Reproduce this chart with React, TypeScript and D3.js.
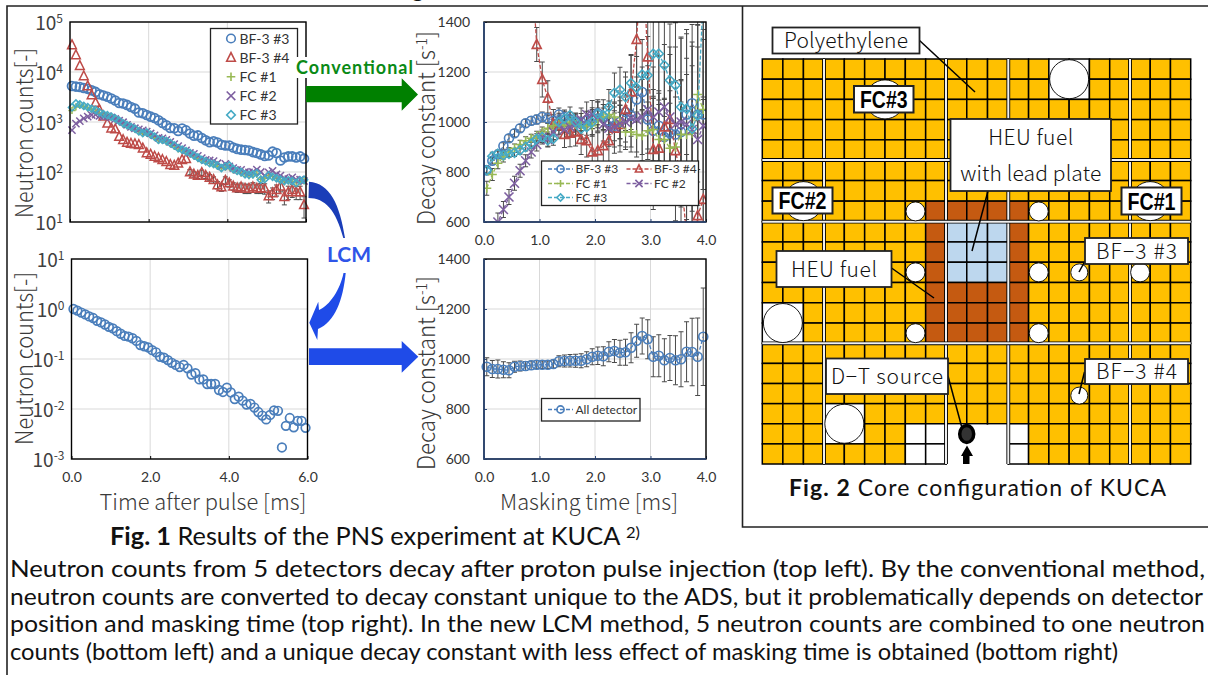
import React, { useEffect, useRef } from 'react';
import * as d3 from 'd3';

// ---- data ----
const timeBins = [0.05,0.15,0.25,0.35,0.45,0.55,0.65,0.75,0.85,0.95,1.05,1.15,1.25,1.35,1.45,1.55,1.65,1.75,1.85,1.95,2.05,2.15,2.25,2.35,2.45,2.55,2.65,2.75,2.85,2.95,3.05,3.15,3.25,3.35,3.45,3.55,3.65,3.75,3.85,3.95,4.05,4.15,4.25,4.35,4.45,4.55,4.65,4.75,4.85,4.95,5.05,5.15,5.25,5.35,5.45,5.55,5.65,5.75,5.85,5.95];
const maskBins = [0.05,0.15,0.25,0.35,0.45,0.55,0.65,0.75,0.85,0.95,1.05,1.15,1.25,1.35,1.45,1.55,1.65,1.75,1.85,1.95,2.05,2.15,2.25,2.35,2.45,2.55,2.65,2.75,2.85,2.95,3.05,3.15,3.25,3.35,3.45,3.55,3.65,3.75,3.85,3.95];

const countsBf3 = [5250,5100,5000,4800,4600,4300,4000,3600,3400,3200,2950,2700,2400,2350,2200,2000,1850,1550,1500,1380,1280,1200,1080,960,860,760,750,660,740,680,590,530,540,480,430,395,410,390,350,340,340,310,290,280,275,270,250,240,225,210,215,255,240,170,195,205,205,195,205,185];
const countsBf4 = [34700,21900,13400,8300,5250,3470,2440,1740,1300,940,750,720,510,440,390,370,365,350,300,240,225,205,190,175,160,140,135,150,175,185,100,90,85,97,85,78,70,55,50,68,60,52,48,50,47,47,50,47,48,47,33,38,44,52,32,40,44,40,40,22];
const countsFc1 = [1700,2000,2150,2050,1900,1800,1650,1500,1400,1330,1230,1130,1020,910,850,780,720,640,590,600,550,490,430,430,400,370,330,290,270,250,230,210,185,170,160,150,140,130,120,125,125,110,105,95,92,85,88,90,72,75,84,82,74,70,64,66,70,62,64,66];
const countsFc2 = [690,930,1040,1180,1280,1380,1400,1330,1280,1300,1230,1150,1060,990,880,800,750,710,680,640,590,540,480,470,440,400,360,330,300,270,240,230,210,190,175,170,165,150,130,145,130,120,110,110,100,98,100,112,100,85,98,105,90,85,75,72,78,70,70,66];
const countsFc3 = [1960,2350,2250,2100,1980,1850,1740,1560,1440,1370,1280,1180,1060,940,870,800,740,650,600,620,560,510,440,440,420,380,340,300,280,260,240,215,195,175,165,150,145,135,120,130,135,115,105,100,90,88,90,95,70,72,86,80,75,70,66,68,66,60,68,70];
const errBf4 = [0,0,0,0,0,0,0,0,0,0,0,0,0,0,0,0,0,0,0,0,0,0,0,0,0,0,0,0,0,0,12,11,11,12,11,11,10,9,9,12,10,9,9,10,10,10,11,10,11,11,9,10,11,12,10,12,13,12,12,10];
const countsAll = [1.0,0.93,0.85,0.78,0.71,0.66,0.58,0.54,0.49,0.44,0.41,0.36,0.32,0.29,0.28,0.26,0.23,0.19,0.18,0.17,0.15,0.136,0.111,0.106,0.095,0.084,0.076,0.069,0.076,0.065,0.049,0.052,0.039,0.039,0.0316,0.0316,0.0316,0.024,0.0219,0.0266,0.0214,0.0158,0.0176,0.0147,0.0123,0.0126,0.0107,0.0087,0.0074,0.0062,0.0076,0.0094,0.0092,0.0017,0.0046,0.0066,0.0043,0.0058,0.0058,0.0042];

const decayBf3 = [807,845,870,904,935,955,975,995,1005,1010,1020,1015,1005,1030,1020,1010,1000,1000,1005,1015,1035,1020,1005,985,1000,1040,1025,1090,1120,1010,965,985,940,955,950,960,1030,1075,1030,1030];
const decayBf4 = [9000,7200,5800,4700,3900,3200,2700,2100,1650,1310,1170,1095,990,985,950,955,960,930,925,880,885,905,925,975,990,1050,1120,1330,1700,1260,890,895,980,1010,885,780,550,400,625,690];
const decayFc1 = [735,790,835,860,880,895,910,925,935,945,960,975,985,990,985,1000,990,985,985,985,1010,1020,1030,1020,1000,960,960,950,945,965,970,930,930,895,900,950,950,955,1110,1050];
const decayFc2 = [500,560,600,650,700,755,805,845,880,910,940,930,960,985,970,980,990,1010,1030,1030,1020,990,975,980,995,1000,1015,1010,1020,1050,1020,1040,1060,1020,990,1000,990,970,930,985];
const decayFc3 = [807,863,873,867,873,877,887,900,913,933,940,927,933,1000,1013,1027,1000,973,980,1000,1033,1027,1060,1116,1129,1100,1156,1137,1190,1187,1273,1273,1227,1167,1147,1060,1053,973,1027,1500];
const errDecayBf3 = [14,13,14,13,14,15,15,16,17,18,20,21,24,26,28,30,32,34,38,42,46,50,56,60,68,74,82,90,100,118,130,140,155,170,185,205,225,245,270,300];
const errDecayBf4 = [90,80,75,70,70,72,75,78,70,68,70,70,60,50,52,54,56,60,65,68,72,80,90,100,110,130,150,190,260,300,240,220,240,260,280,300,320,350,380,400];
const errDecayFc1 = [28,24,22,20,18,17,17,16,16,18,20,22,24,24,26,28,30,34,38,42,46,50,54,60,66,70,80,90,100,115,125,140,160,180,200,220,240,270,300,320];
const errDecayFc2 = [45,40,36,32,30,28,26,24,24,26,28,30,32,34,36,38,42,46,50,56,60,66,72,80,90,100,115,130,150,175,200,225,250,280,310,340,380,420,460,500];
const errDecayFc3 = [18,16,15,15,15,15,16,16,18,20,22,24,26,28,30,33,36,40,44,50,56,62,70,80,90,100,110,125,140,155,170,185,205,225,250,275,300,330,360,400];
const decayAll = [969,960,960,957,955,969,972,972,975,977,977,977,980,991,992,993,993,993,999,1009,1013,1011,1029,1032,1025,1027,1045,1073,1092,1079,1009,1013,995,1004,995,999,1029,1028,1009,1089];
const errDecayAll = [36,34,36,32,30,22,20,18,17,16,15,15,16,22,24,25,26,28,30,32,35,38,40,46,50,52,60,66,72,78,80,84,86,90,98,110,120,135,155,195];

const seriesNames = ['BF-3 #3', 'BF-3 #4', 'FC #1', 'FC #2', 'FC #3'];
const seriesColors = ['#4a7ebb', '#be4b48', '#98b954', '#7d5fa0', '#46aac5'];
const seriesMarks = ['circle', 'triangle', 'plus', 'cross', 'diamond'];

const captionLines = [
  'Neutron counts from 5 detectors decay after proton pulse injection (top left). By the conventional method,',
  'neutron counts are converted to decay constant unique to the ADS, but it problematically depends on detector',
  'position and masking time (top right). In the new LCM method, 5 neutron counts are combined to one neutron',
  'counts (bottom left) and a unique decay constant with less effect of masking time is obtained (bottom right)',
];
const captionWidths = [1195, 1193, 1195, 1108];

// core map, in units of fuel cells
const colStops = [0, 3, 9, 12, 18, 21];
const rowStops = [0, 5, 8, 14, 20];
const brownCells = [[8,7],[9,7],[10,7],[11,7],[12,7],[8,8],[12,8],[8,9],[12,9],[8,10],[12,10],[8,11],[9,11],[10,11],[11,11],[12,11],[8,12],[9,12],[10,12],[11,12],[12,12],[8,13],[9,13],[10,13],[11,13],[12,13]];
const blueCells = [[9,8],[10,8],[11,8],[9,9],[10,9],[11,9],[9,10],[10,10],[11,10]];
const whiteCells = [[7,18],[8,18],[7,19],[8,19],[9,18],[10,18],[11,18],[9,19],[10,19],[11,19],[12,18],[12,19],[14,0],[15,0],[14,1],[15,1],[0,12],[1,12],[0,13],[1,13],[3,17],[4,17],[3,18],[4,18]];
const bigHoles = [[15,1],[1,13],[4,18],[6,2],[2,7],[19,7]];
const smallHoles = [[7.5,7.5],[13.5,7.5],[7.5,10.5],[13.5,10.5],[7.5,13.5],[13.5,13.5],[18.5,10.5]];
const detectorHoles = [[15.5,10.5],[15.5,16.6]];

const axisFont = '"Noto Sans CJK JP", "Noto Sans", sans-serif';
const bodyFont = 'Lato, "Noto Sans", sans-serif';
const gridColor = '#d9d9d9';

function mark(g: any, kind: string, x: number, y: number, color: string, s: number, sw = 1.6) {
  if (kind === 'circle') {
    g.append('circle').attr('cx', x).attr('cy', y).attr('r', s).attr('fill', 'none').attr('stroke', color).attr('stroke-width', sw);
    return;
  }
  const paths: any = {
    triangle: `M${x},${y - s * 1.15}L${x + s},${y + s * 0.85}L${x - s},${y + s * 0.85}Z`,
    plus: `M${x - s},${y}H${x + s}M${x},${y - s}V${y + s}`,
    cross: `M${x - s},${y - s}L${x + s},${y + s}M${x - s},${y + s}L${x + s},${y - s}`,
    diamond: `M${x},${y - s}L${x + s},${y}L${x},${y + s}L${x - s},${y}Z`,
  };
  g.append('path').attr('d', paths[kind]).attr('fill', 'none').attr('stroke', color).attr('stroke-width', sw);
}

function drawFrame(svg: any, box: number[], x: any, y: any, xTicks: number[], yTicks: number[], logY: boolean, showXLabels: boolean, navy: boolean) {
  const [l, t, r, b] = box;
  const ax = svg.append('g');
  ax.selectAll('line.vg').data(xTicks).enter().append('line').attr('x1', (d: number) => x(d)).attr('x2', (d: number) => x(d)).attr('y1', t).attr('y2', b).attr('stroke', gridColor);
  ax.selectAll('line.hg').data(yTicks).enter().append('line').attr('x1', l).attr('x2', r).attr('y1', (d: number) => y(d)).attr('y2', (d: number) => y(d)).attr('stroke', gridColor);

  const xAxis = svg.append('g').attr('transform', `translate(0,${b})`)
    .call(d3.axisBottom(x).tickValues(xTicks).tickSize(-3).tickPadding(showXLabels ? 13 : 0).tickFormat((d: any) => (showXLabels ? d3.format('.1f')(d) : '')));
  xAxis.select('.domain').remove();
  xAxis.selectAll('text').attr('font-family', bodyFont).attr('font-size', 14).attr('fill', '#333');
  xAxis.selectAll('line').attr('stroke', navy ? '#2f4b7c' : '#000');

  const yAxis = svg.append('g').attr('transform', `translate(${l},0)`)
    .call(d3.axisLeft(y).tickValues(yTicks).tickSize(logY ? 0 : -3).tickPadding(logY ? 7 : 14).tickFormat((d: any) => (logY ? '' : String(d))));
  yAxis.select('.domain').remove();
  yAxis.selectAll('line').attr('stroke', navy ? '#2f4b7c' : '#000');
  if (logY) {
    yAxis.selectAll('text').each(function (this: any, d: any) {
      const el = d3.select(this);
      el.attr('font-family', axisFont).attr('font-size', 19).attr('fill', '#404040').attr('dy', '0.4em');
      el.append('tspan').text('10');
      el.append('tspan').attr('dy', -7).attr('font-size', 12).text(String(Math.round(Math.log10(d))));
    });
  } else {
    yAxis.selectAll('text').attr('font-family', bodyFont).attr('font-size', 14).attr('fill', '#333');
  }
  return ax;
}

function drawBorder(svg: any, box: number[], navy: boolean) {
  const [l, t, r, b] = box;
  svg.append('rect').attr('x', l).attr('y', t).attr('width', r - l).attr('height', b - t).attr('fill', 'none').attr('stroke', '#000').attr('stroke-width', 1.4);
  if (navy) {
    svg.append('path').attr('d', `M${l},${t}V${b}H${r}`).attr('fill', 'none').attr('stroke', '#2f4b7c').attr('stroke-width', 1.6);
  }
}

function rotatedTitle(svg: any, text: string, sup: string, x: number, yBottom: number, len: number) {
  const t = svg.append('text').attr('transform', `translate(${x},${yBottom}) rotate(-90)`)
    .attr('font-family', axisFont).attr('font-size', 24).attr('font-weight', 300).attr('fill', '#3a3a3a')
    .attr('textLength', len).attr('lengthAdjust', 'spacingAndGlyphs');
  t.append('tspan').text(text);
  if (sup) {
    t.append('tspan').attr('dy', -8).attr('font-size', 15).text(sup);
    t.append('tspan').attr('dy', 8).text(']');
  }
}

function errorBars(g: any, xs: number[], ys: number[], lo: number[], hi: number[], x: any, y: any, cap: number) {
  xs.forEach((v, i) => {
    if (hi[i] === ys[i] && lo[i] === ys[i]) return;
    const px = x(v);
    const top = y(hi[i]);
    const bot = y(lo[i]);
    g.append('path').attr('d', `M${px},${top}V${bot}M${px - cap},${top}H${px + cap}M${px - cap},${bot}H${px + cap}`)
      .attr('fill', 'none').attr('stroke', '#4a4a4a').attr('stroke-width', 1);
  });
}

function legendBox(svg: any, x: number, y: number, w: number, h: number) {
  svg.append('rect').attr('x', x).attr('y', y).attr('width', w).attr('height', h).attr('fill', '#fff').attr('stroke', '#222').attr('stroke-width', 1.3);
}

function axisCaption(svg: any, text: string, x: number, len: number) {
  svg.append('text').attr('x', x).attr('y', 510).attr('font-family', axisFont).attr('font-size', 22).attr('font-weight', 300).attr('fill', '#3a3a3a')
    .attr('textLength', len).attr('lengthAdjust', 'spacingAndGlyphs').text(text);
}

function drawCharts(svg: any) {
  const xTime = d3.scaleLinear().domain([0, 6]).range([70, 306]);
  const yTop = d3.scaleLog().domain([10, 1e5]).range([222, 22]);
  const boxA = [70, 22, 306, 222];
  drawFrame(svg, boxA, xTime, yTop, [0, 2, 4, 6], [10, 100, 1000, 1e4, 1e5], true, false, false);
  const pa = svg.append('g');
  errorBars(pa, timeBins, countsBf4, countsBf4.map((v, i) => v - errBf4[i]), countsBf4.map((v, i) => v + errBf4[i]), xTime, yTop, 2.5);
  [countsBf3, countsBf4, countsFc1, countsFc2, countsFc3].forEach((vals, s) => {
    vals.forEach((v, i) => mark(pa, seriesMarks[s], xTime(timeBins[i]), yTop(v), seriesColors[s], s < 2 ? 4.4 : 3.6, s === 0 ? 1.8 : 1.5));
  });
  drawBorder(svg, boxA, false);
  legendBox(svg, 210.5, 28.5, 87, 95.5);
  seriesNames.forEach((name, i) => {
    const ly = 38.5 + i * 19.1;
    mark(svg, seriesMarks[i], 231, ly, seriesColors[i], 4.3);
    svg.append('text').attr('x', 239.5).attr('y', ly + 5).attr('font-family', bodyFont).attr('font-size', 14).attr('fill', '#333').text(name);
  });
  rotatedTitle(svg, 'Neutron counts[-]', '', 33, 218, 170);

  const xTimeB = d3.scaleLinear().domain([0, 6]).range([71.5, 307.5]);
  const yLow = d3.scaleLog().domain([1e-3, 10]).range([459, 259]);
  const boxC = [71.5, 259, 307.5, 459];
  drawFrame(svg, boxC, xTimeB, yLow, [0, 2, 4, 6], [1e-3, 1e-2, 0.1, 1, 10], true, true, false);
  const pc = svg.append('g');
  countsAll.forEach((v, i) => mark(pc, 'circle', xTimeB(timeBins[i]), yLow(v), seriesColors[0], 4.3, 1.7));
  drawBorder(svg, boxC, false);
  rotatedTitle(svg, 'Neutron counts[-]', '', 33, 445, 173);
  axisCaption(svg, 'Time after pulse [ms]', 99.5, 207);

  // decay constant panels share their scale in x
  const xMask = d3.scaleLinear().domain([0, 4]).range([484, 706]);
  const boxB = [484, 22, 706, 222];
  const yB = d3.scaleLinear().domain([600, 1400]).range([222, 22]);
  drawFrame(svg, boxB, xMask, yB, [0, 1, 2, 3, 4], [600, 800, 1000, 1200, 1400], false, true, true);
  svg.append('clipPath').attr('id', 'clip-b').append('rect').attr('x', 484).attr('y', 22).attr('width', 222).attr('height', 200);
  const pb = svg.append('g').attr('clip-path', 'url(#clip-b)');
  const decays = [decayBf3, decayBf4, decayFc1, decayFc2, decayFc3];
  const decayErrs = [errDecayBf3, errDecayBf4, errDecayFc1, errDecayFc2, errDecayFc3];
  decays.forEach((vals, s) => errorBars(pb, maskBins, vals, vals.map((v, i) => v - decayErrs[s][i]), vals.map((v, i) => v + decayErrs[s][i]), xMask, yB, 2.5));
  const lineB = d3.line<number>().x((_, i) => xMask(maskBins[i])).y((d) => yB(d));
  decays.forEach((vals, s) => {
    pb.append('path').attr('d', lineB(vals)).attr('fill', 'none').attr('stroke', seriesColors[s]).attr('stroke-width', 1.3).attr('stroke-dasharray', '4 2');
    vals.forEach((v, i) => mark(pb, seriesMarks[s], xMask(maskBins[i]), yB(v), seriesColors[s], 4.5, 1.6));
  });
  drawBorder(svg, boxB, true);
  legendBox(svg, 541.5, 161, 157, 44.5);
  const legendSpots = [[548, 169], [626.5, 169], [548, 183.5], [626.5, 183.5], [548, 197.5]];
  seriesNames.forEach((name, i) => {
    const [lx, ly] = legendSpots[i];
    svg.append('line').attr('x1', lx).attr('x2', lx + 25).attr('y1', ly).attr('y2', ly).attr('stroke', seriesColors[i]).attr('stroke-width', 1.3).attr('stroke-dasharray', '4 2');
    mark(svg, seriesMarks[i], lx + 12.5, ly, seriesColors[i], 3.6);
    svg.append('text').attr('x', lx + 27.5).attr('y', ly + 4).attr('font-family', bodyFont).attr('font-size', 12).attr('fill', '#333').text(name);
  });
  rotatedTitle(svg, 'Decay constant [s', '-1', 435, 225, 194);

  const boxD = [484, 259, 706, 459];
  const yD = d3.scaleLinear().domain([600, 1400]).range([459, 259]);
  drawFrame(svg, boxD, xMask, yD, [0, 1, 2, 3, 4], [600, 800, 1000, 1200, 1400], false, true, true);
  const pd = svg.append('g');
  errorBars(pd, maskBins, decayAll, decayAll.map((v, i) => v - errDecayAll[i]), decayAll.map((v, i) => v + errDecayAll[i]), xMask, yD, 2.5);
  pd.append('path').attr('d', d3.line<number>().x((_, i) => xMask(maskBins[i])).y((d) => yD(d))(decayAll)).attr('fill', 'none').attr('stroke', seriesColors[0]).attr('stroke-width', 1.3).attr('stroke-dasharray', '4 2');
  decayAll.forEach((v, i) => mark(pd, 'circle', xMask(maskBins[i]), yD(v), seriesColors[0], 4.5, 1.7));
  drawBorder(svg, boxD, true);
  legendBox(svg, 541.5, 398.5, 98.5, 22.5);
  svg.append('line').attr('x1', 548).attr('x2', 573).attr('y1', 409.5).attr('y2', 409.5).attr('stroke', seriesColors[0]).attr('stroke-width', 1.3).attr('stroke-dasharray', '4 2');
  mark(svg, 'circle', 560.5, 409.5, seriesColors[0], 3.6);
  svg.append('text').attr('x', 575.5).attr('y', 413.5).attr('font-family', bodyFont).attr('font-size', 12).attr('fill', '#333').text('All detector');
  rotatedTitle(svg, 'Decay constant [s', '-1', 435, 470, 194);
  axisCaption(svg, 'Masking time [ms]', 500, 178);
}

function drawArrows(svg: any) {
  svg.append('rect').attr('x', 294).attr('y', 57).attr('width', 120).attr('height', 21).attr('fill', '#fff');
  svg.append('text').attr('x', 296).attr('y', 74).attr('font-family', bodyFont).attr('font-weight', 700).attr('font-size', 18).attr('fill', '#0a8a16').attr('textLength', 117).text('Conventional');
  svg.append('path').attr('d', 'M306,86H401.7V78.3L418,94.5L401.7,110.7V102.3H306Z').attr('fill', '#008000');
  svg.append('path').attr('d', 'M309,348.3H401.7V341L418.3,356.8L401.7,372.7V365H309Z').attr('fill', '#1f4be8');
  svg.append('path').attr('d', 'M309,181.7C330,183 340,205 345,238L343.3,238C336,210 325,198 308.5,198Z').attr('fill', '#1a3db8');
  svg.append('path').attr('d', 'M343.5,273C340,290 330,305 319,310L318.3,301.7L309.3,322.7L317.3,340L318,329C335,322 343,300 345.7,273Z').attr('fill', '#1f4be8');
  svg.append('text').attr('x', 327).attr('y', 262).attr('font-family', bodyFont).attr('font-weight', 700).attr('font-size', 21).attr('fill', '#2f55e8').attr('textLength', 44).text('LCM');
}

function drawCore(svg: any) {
  const cx = d3.scaleLinear().domain(colStops).range([762.3, 824, 946, 1008.3, 1130, 1190.7]);
  const cy = d3.scaleLinear().domain(rowStops).range([59, 160, 221.7, 343.3, 464]);
  const g = svg.append('g');
  const cols = d3.range(21);
  const rows = d3.range(20);
  const kind = new Map<string, string>();
  brownCells.forEach(([c, r]) => kind.set(`${c}-${r}`, '#c55a11'));
  blueCells.forEach(([c, r]) => kind.set(`${c}-${r}`, '#bdd7ee'));
  whiteCells.forEach(([c, r]) => kind.set(`${c}-${r}`, '#fff'));
  rows.forEach((r) => cols.forEach((c) => {
    g.append('rect').attr('x', cx(c)).attr('y', cy(r)).attr('width', cx(c + 1) - cx(c)).attr('height', cy(r + 1) - cy(r))
      .attr('fill', kind.get(`${c}-${r}`) || '#ffc000').attr('stroke', '#000').attr('stroke-width', 1.5);
  }));
  // the D-T opening has no grid
  g.append('rect').attr('x', cx(9) + 1).attr('y', cy(18) + 1).attr('width', cx(12) - cx(9) - 2).attr('height', cy(20) - cy(18)).attr('fill', '#fff');
  colStops.slice(1, -1).forEach((c) => {
    g.append('line').attr('x1', cx(c)).attr('x2', cx(c)).attr('y1', cy(0)).attr('y2', cy(20)).attr('stroke', '#000').attr('stroke-width', 3.8);
    g.append('line').attr('x1', cx(c)).attr('x2', cx(c)).attr('y1', cy(0)).attr('y2', cy(20)).attr('stroke', '#efefef').attr('stroke-width', 2);
  });
  rowStops.slice(1, -1).forEach((r) => {
    g.append('line').attr('x1', cx(0)).attr('x2', cx(21)).attr('y1', cy(r)).attr('y2', cy(r)).attr('stroke', '#000').attr('stroke-width', 3.8);
    g.append('line').attr('x1', cx(0)).attr('x2', cx(21)).attr('y1', cy(r)).attr('y2', cy(r)).attr('stroke', '#efefef').attr('stroke-width', 2);
  });
  const hole = (p: number[], rad: number) => g.append('circle').attr('cx', cx(p[0])).attr('cy', cy(p[1])).attr('r', rad).attr('fill', '#fff').attr('stroke', '#000').attr('stroke-width', 0.9);
  bigHoles.forEach((p) => hole(p, 19.5));
  smallHoles.forEach((p) => hole(p, 9.5));
  detectorHoles.forEach((p) => hole(p, 8.5));

  // D-T target and its arrow
  g.append('ellipse').attr('cx', 966.7).attr('cy', 434).attr('rx', 7).attr('ry', 8.5).attr('fill', '#333').attr('stroke', '#000').attr('stroke-width', 3.5);
  g.append('path').attr('d', 'M967,445.5L973,456H969.5V464H963V456H961Z').attr('fill', '#000');

  const leaders = [
    [919, 40, 975, 92],
    [988, 191, 972, 251],
    [891.5, 268, 934, 298],
    [948, 376, 962, 428],
    [1084.5, 262, 1079, 272],
    [1084.5, 372, 1079, 394],
  ];
  leaders.forEach(([x1, y1, x2, y2]) => {
    g.append('line').attr('x1', x1).attr('y1', y1).attr('x2', x2).attr('y2', y2).attr('stroke', '#000').attr('stroke-width', 1.5);
  });

  const coreLabels = [
    { lines: ['Polyethylene'], box: [772.5, 27.5, 147, 26], len: [124] },
    { lines: ['HEU fuel', 'with lead plate'], box: [950.5, 119, 160.5, 72], len: [85, 141] },
    { lines: ['HEU fuel'], box: [776.5, 251, 115, 36], len: [86] },
    { lines: ['D\u2212T source'], box: [826, 358.5, 122, 35.5], len: [112] },
    { lines: ['BF\u22123 #3'], box: [1085, 238, 103, 26], len: [81] },
    { lines: ['BF\u22123 #4'], box: [1085, 359, 103, 25], len: [81] },
  ];
  coreLabels.forEach((lab) => {
    const [x, y, w, h] = lab.box;
    g.append('rect').attr('x', x).attr('y', y).attr('width', w).attr('height', h).attr('fill', '#fff').attr('stroke', '#222').attr('stroke-width', 1.8);
    lab.lines.forEach((line, i) => {
      const step = h / lab.lines.length;
      g.append('text').attr('x', x + w / 2).attr('y', y + step * i + step / 2 + 7.5).attr('text-anchor', 'middle')
        .attr('font-family', axisFont).attr('font-size', 21).attr('font-weight', 300).attr('fill', '#111')
        .attr('textLength', lab.len[i]).attr('lengthAdjust', 'spacing').text(line);
    });
  });
  const fcLabels = [
    { text: 'FC#3', box: [854, 86, 59.5, 26.5] },
    { text: 'FC#2', box: [772.5, 187.5, 60, 26] },
    { text: 'FC#1', box: [1121.5, 187.5, 60, 27] },
  ];
  fcLabels.forEach((lab) => {
    const [x, y, w, h] = lab.box;
    g.append('rect').attr('x', x).attr('y', y).attr('width', w).attr('height', h).attr('fill', '#fff').attr('stroke', '#222').attr('stroke-width', 2);
    g.append('text').attr('x', x + 6).attr('y', y + h / 2 + 8.5).attr('font-family', '"Liberation Sans", sans-serif').attr('font-weight', 700).attr('font-size', 24)
      .attr('textLength', w - 12).attr('lengthAdjust', 'spacingAndGlyphs').attr('fill', '#000').text(lab.text);
  });

  const cap = svg.append('text').attr('x', 789).attr('y', 496).attr('font-family', bodyFont).attr('font-size', 23).attr('fill', '#111').attr('textLength', 377);
  cap.append('tspan').attr('font-weight', 700).text('Fig. 2');
  cap.append('tspan').text(' Core configuration of KUCA');
}

function drawPage(svg: any) {
  svg.append('path').attr('d', 'M7,675V6H1208').attr('fill', 'none').attr('stroke', '#222').attr('stroke-width', 1.6);
  svg.append('path').attr('d', 'M1208,527H742.5V6').attr('fill', 'none').attr('stroke', '#222').attr('stroke-width', 1.6);
  svg.append('text').attr('x', 412).attr('y', -3).attr('font-family', bodyFont).attr('font-size', 22).attr('fill', '#111').text('g');
  const fig1 = svg.append('text').attr('x', 110).attr('y', 545).attr('font-family', bodyFont).attr('font-size', 24.5).attr('fill', '#111')
    .attr('textLength', 530).attr('lengthAdjust', 'spacingAndGlyphs');
  fig1.append('tspan').attr('font-weight', 700).text('Fig. 1');
  fig1.append('tspan').text(' Results of the PNS experiment at KUCA ');
  fig1.append('tspan').attr('dy', -7).attr('font-size', 16).text('2)');
  captionLines.forEach((line, i) => {
    svg.append('text').attr('x', 10).attr('y', 577 + i * 27.6).attr('font-family', bodyFont).attr('font-size', 24).attr('fill', '#111')
      .attr('textLength', captionWidths[i]).attr('lengthAdjust', 'spacingAndGlyphs').text(line);
  });
}

export default function App() {
  const ref = useRef<SVGSVGElement>(null);
  useEffect(() => {
    const svg = d3.select(ref.current);
    svg.selectAll('*').remove();
    drawCharts(svg);
    drawArrows(svg);
    drawCore(svg);
    drawPage(svg);
  }, []);
  return <svg ref={ref} width={1208} height={675} style={{ position: 'fixed', left: 0, top: 0, background: '#fff' }} />;
}
